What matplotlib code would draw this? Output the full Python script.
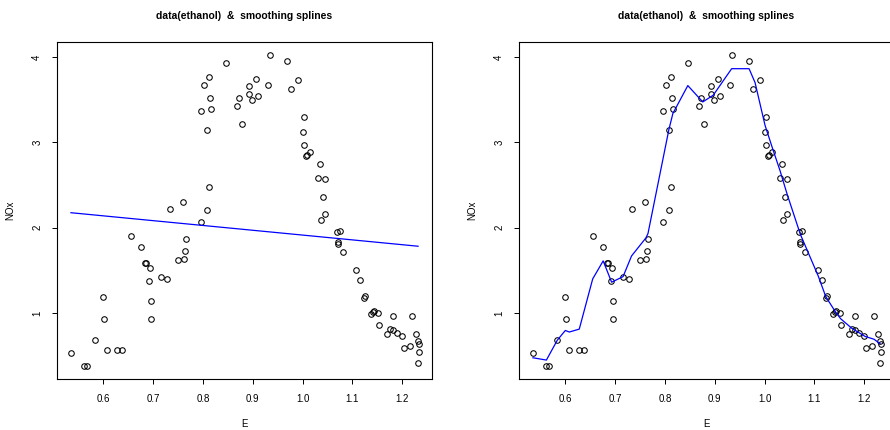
import matplotlib
matplotlib.use("Agg")
import matplotlib.pyplot as plt

# =========================
# DATA (ethanol: E vs NOx)
# =========================

E = [
    0.846, 0.812, 0.803, 0.814, 0.816, 0.797, 0.808, 0.872, 0.868, 0.878,
    0.812, 0.761, 0.733, 0.808, 0.796, 0.934, 0.969, 0.907, 0.892, 0.930,
    0.990, 0.977, 0.893, 0.911, 0.899, 1.003, 1.001, 1.003, 1.016, 1.008,
    1.006, 1.036, 1.031, 1.046, 1.042, 1.046, 1.037, 0.655, 0.676, 0.686,
    0.684, 0.694, 0.767, 0.765, 0.749, 0.762, 0.692, 0.715, 0.728, 0.600,
    0.696, 0.602, 0.696, 0.584, 0.608, 0.628, 0.637, 0.535, 0.562, 0.568,
    1.069, 1.075, 1.071, 1.072, 1.082, 1.108, 1.116, 1.126, 1.123, 1.143,
    1.141, 1.138, 1.152, 1.153, 1.181, 1.220, 1.175, 1.181, 1.169, 1.189,
    1.199, 1.227, 1.231, 1.233, 1.203, 1.215, 1.234, 1.231,
]

NOx = [
    3.935, 3.763, 3.677, 3.517, 3.388, 3.364, 3.148, 3.520, 3.423, 3.209,
    2.475, 2.295, 2.217, 2.202, 2.065, 4.028, 3.953, 3.741, 3.657, 3.669,
    3.736, 3.622, 3.567, 3.537, 3.490, 3.291, 3.120, 2.967, 2.881, 2.849,
    2.838, 2.741, 2.584, 2.572, 2.358, 2.159, 2.085, 1.901, 1.776, 1.590,
    1.589, 1.527, 1.870, 1.729, 1.620, 1.632, 1.371, 1.421, 1.398, 1.191,
    1.140, 0.922, 0.926, 0.676, 0.563, 0.559, 0.567, 0.528, 0.371, 0.371,
    1.945, 1.960, 1.831, 1.806, 1.718, 1.498, 1.386, 1.199, 1.170, 1.023,
    1.008, 0.981, 1.000, 0.863, 0.965, 0.961, 0.816, 0.797, 0.754, 0.760,
    0.727, 0.751, 0.669, 0.638, 0.582, 0.606, 0.540, 0.415,
]

# stiff spline (practically a straight line)
fit1_E = [0.535, 1.232]
fit1_NOx = [2.174, 1.781]

# flexible spline, read at its vertices
fit2_E = [
    0.535, 0.562, 0.584, 0.600, 0.608, 0.628, 0.655, 0.676, 0.693, 0.716,
    0.733, 0.762, 0.766, 0.808, 0.816, 0.846, 0.876, 0.897, 0.934, 0.969,
    0.981, 0.991, 1.001, 1.016, 1.031, 1.046, 1.072, 1.108, 1.123, 1.142,
    1.153, 1.175, 1.202, 1.220, 1.232,
]
fit2_NOx = [
    0.473, 0.446, 0.680, 0.793, 0.775, 0.809, 1.398, 1.609, 1.359, 1.425,
    1.667, 1.880, 1.930, 3.150, 3.338, 3.665, 3.473, 3.552, 3.863, 3.863,
    3.700, 3.450, 3.200, 2.930, 2.670, 2.380, 1.920, 1.430, 1.190, 1.015,
    0.930, 0.820, 0.723, 0.690, 0.637,
]

x_ticks = [0.6, 0.7, 0.8, 0.9, 1.0, 1.1, 1.2]
x_tick_labels = ["0.6", "0.7", "0.8", "0.9", "1.0", "1.1", "1.2"]
y_ticks = [1, 2, 3, 4]
y_tick_labels = ["1", "2", "3", "4"]

plt.rcParams["font.family"] = ["Liberation Sans", "DejaVu Sans"]

# =========================
# FIGURE
# =========================

fig = plt.figure(figsize=(8.9, 4.3), dpi=100)

ax_left = fig.add_axes([57 / 890, 1 - 379 / 430, 375 / 890, 337 / 430])
ax_right = fig.add_axes([519 / 890, 1 - 379 / 430, 375 / 890, 337 / 430])

fits = [(fit1_E, fit1_NOx), (fit2_E, fit2_NOx)]

for ax, (fx, fy) in zip([ax_left, ax_right], fits):
    ax.plot(
        E, NOx,
        linestyle="none",
        marker="o",
        markersize=4,
        markerfacecolor="none",
        markeredgecolor="black",
        markeredgewidth=0.75,
    )
    ax.plot(fx, fy, color="#0000ff", linewidth=0.9)

    ax.set_xlim(0.507, 1.260)
    ax.set_ylim(0.224, 4.176)

    ax.set_xticks(x_ticks)
    ax.set_xticklabels(x_tick_labels)
    ax.set_yticks(y_ticks)
    ax.set_yticklabels(y_tick_labels)

    ax.tick_params(axis="x", length=3.6, width=0.7, pad=7.5, labelsize=7)
    ax.tick_params(axis="y", length=3.6, width=0.7, pad=7, labelsize=7,
                   labelrotation=90)
    for lbl in ax.get_yticklabels():
        lbl.set_verticalalignment("center")

    for s in ax.spines.values():
        s.set_linewidth(0.8)
        s.set_color("black")

    ax.text(0.5, 1 + 26 / 337, "data(ethanol)  &  smoothing splines",
            transform=ax.transAxes, ha="center", va="center",
            fontsize=7.5, fontweight="bold")
    ax.text(0.5, -45 / 337, "E", transform=ax.transAxes,
            ha="center", va="center", fontsize=7)
    ax.text(-47 / 375, 0.5, "NOx", transform=ax.transAxes,
            ha="center", va="center", rotation=90, fontsize=7)

fig.savefig("out.png", dpi=100)
